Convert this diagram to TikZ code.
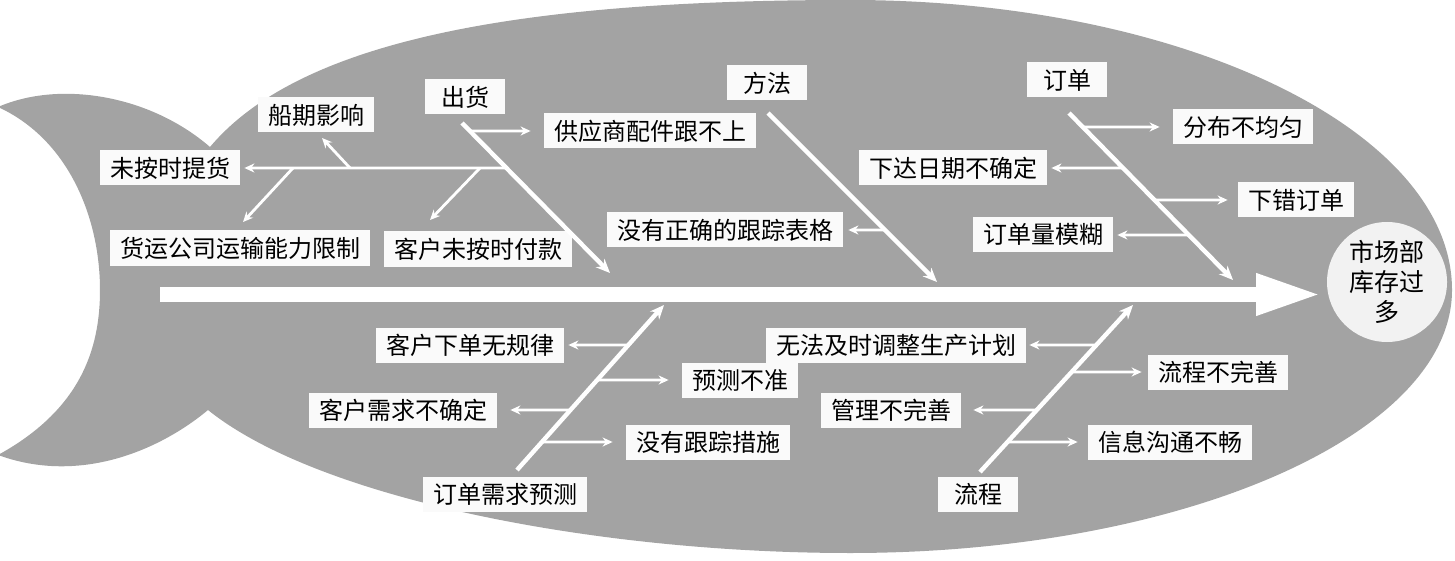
\documentclass[tikz,border=0pt]{standalone}
\usepackage{fontspec}
\newfontfamily\cjk{Noto Sans CJK SC}
\usetikzlibrary{arrows.meta}
\definecolor{fishgray}{RGB}{163,163,163}
\definecolor{boxwhite}{RGB}{250,250,250}
\definecolor{headwhite}{RGB}{242,242,242}
\begin{document}
\begin{tikzpicture}[x=0.5pt,y=-0.5pt,
  lbl/.style={fill=boxwhite, font=\cjk\fontsize{12}{14}\selectfont, inner xsep=5pt, inner ysep=0pt, minimum height=17.5pt, text=black},
  cat/.style={lbl, minimum width=40pt},
  bone/.style={draw=white, line width=2.2pt, -{Stealth[length=7pt,width=6pt]}},
  sub/.style={draw=white, line width=1.4pt, -{Stealth[length=5pt,width=4.5pt]}},
]
\useasboundingbox (0,0) rectangle (1455,561);
% fish body and tail
\fill[fishgray] (210,147) .. controls (300,40) and (520,0) .. (850,0)
 .. controls (1182,0) and (1452,130) .. (1452,290)
 .. controls (1452,435) and (1182,553) .. (850,553)
 .. controls (600,553) and (320,500) .. (208,410)
 .. controls (160,450) and (80,485) .. (-2,455)
 .. controls (80,410) and (100,350) .. (100,290)
 .. controls (100,220) and (70,140) .. (-2,107)
 .. controls (60,80) and (150,95) .. (210,147) -- cycle;

% head
\node[circle, fill=headwhite, minimum size=60pt, inner sep=0pt, align=center,
      font=\cjk\fontsize{12.5}{15}\selectfont] (head) at (1387,282) {市场部\\库存过\\多};

% spine
\coordinate (spineL) at (160,294.5);
\coordinate (spineR) at (1322,294.5);
\draw[white, line width=7.5pt, -{Triangle[length=33pt,width=19pt]}] (spineL) -- (spineR);

% labels
\node[cat] (chuhuo) at (465,97) {出货};
\node[lbl] (gys) at (650,131) {供应商配件跟不上};
\node[lbl] (wasth) at (170,168) {未按时提货};
\node[lbl] (cqyx) at (316,115) {船期影响};
\node[lbl] (hygs) at (240,248) {货运公司运输能力限制};
\node[lbl] (khwfk) at (478,249) {客户未按时付款};
\node[cat] (fangfa) at (767,83) {方法};
\node[lbl] (myzq) at (725,230) {没有正确的跟踪表格};
\node[cat] (dingdan) at (1067,80) {订单};
\node[lbl] (fbbjy) at (1243,127) {分布不均匀};
\node[lbl] (xdrq) at (953,168) {下达日期不确定};
\node[lbl] (xcdd) at (1296,200) {下错订单};
\node[lbl] (ddlmh) at (1043,235) {订单量模糊};
\node[lbl] (ddxq) at (505,494) {订单需求预测};
\node[lbl] (khxd) at (470,345) {客户下单无规律};
\node[lbl] (ycbz) at (740,380) {预测不准};
\node[lbl] (khxq) at (403,410) {客户需求不确定};
\node[lbl] (myzz) at (708,442) {没有跟踪措施};
\node[cat] (liucheng) at (978,494) {流程};
\node[lbl] (wfjs) at (896,345) {无法及时调整生产计划};
\node[lbl] (lcbws) at (1218,372) {流程不完善};
\node[lbl] (glbws) at (891,410) {管理不完善};
\node[lbl] (xxgt) at (1170,442) {信息沟通不畅};

% bones
\coordinate (b1s) at (462,123); \coordinate (b1e) at (610,273);
\coordinate (b2s) at (768,113); \coordinate (b2e) at (937,282);
\coordinate (b3s) at (1069,113); \coordinate (b3e) at (1233,280);
\coordinate (b4s) at (517,470); \coordinate (b4e) at (664,305);
\coordinate (b5s) at (980,472); \coordinate (b5e) at (1133,305);
\draw[bone] (b1s) -- (b1e);
\draw[bone] (b2s) -- (b2e);
\draw[bone] (b3s) -- (b3e);
\draw[bone] (b4s) -- (b4e);
\draw[bone] (b5s) -- (b5e);

% 出货
\draw[sub] (intersection of b1s--b1e and gys.west--gys.east) -- ([xshift=-6.5pt]gys.west);
\coordinate (m1) at (intersection of b1s--b1e and wasth.west--wasth.east);
\draw[sub] (m1) -- ([xshift=2pt]wasth.east);
\coordinate (h1) at (350,168); \coordinate (h1e) at (322,138);
\coordinate (h2) at (293,168); \coordinate (h2e) at (243,222);
\coordinate (h3) at (480,168); \coordinate (h3e) at (430,220);
\draw[sub] (h1) -- (h1e);
\draw[sub] (h2) -- (h2e);
\draw[sub] (h3) -- (h3e);

% 方法
\draw[sub] (intersection of b2s--b2e and myzq.west--myzq.east) -- ([xshift=2.5pt]myzq.east);

% 订单
\draw[sub] (intersection of b3s--b3e and fbbjy.west--fbbjy.east) -- ([xshift=-6.5pt]fbbjy.west);
\draw[sub] (intersection of b3s--b3e and xdrq.west--xdrq.east) -- ([xshift=2pt]xdrq.east);
\draw[sub] (intersection of b3s--b3e and xcdd.west--xcdd.east) -- ([xshift=-5pt]xcdd.west);
\draw[sub] (intersection of b3s--b3e and ddlmh.west--ddlmh.east) -- ([xshift=2pt]ddlmh.east);

% 订单需求预测
\draw[sub] (intersection of b4s--b4e and khxd.west--khxd.east) -- ([xshift=2pt]khxd.east);
\draw[sub] (intersection of b4s--b4e and ycbz.west--ycbz.east) -- ([xshift=-6.5pt]ycbz.west);
\draw[sub] (intersection of b4s--b4e and khxq.west--khxq.east) -- ([xshift=6.5pt]khxq.east);
\draw[sub] (intersection of b4s--b4e and myzz.west--myzz.east) -- ([xshift=-6.5pt]myzz.west);

% 流程
\draw[sub] (intersection of b5s--b5e and wfjs.west--wfjs.east) -- ([xshift=1.5pt]wfjs.east);
\draw[sub] (intersection of b5s--b5e and lcbws.west--lcbws.east) -- ([xshift=-3pt]lcbws.west);
\draw[sub] (intersection of b5s--b5e and glbws.west--glbws.east) -- ([xshift=6pt]glbws.east);
\draw[sub] (intersection of b5s--b5e and xxgt.west--xxgt.east) -- ([xshift=-5pt]xxgt.west);
\end{tikzpicture}
\end{document}
